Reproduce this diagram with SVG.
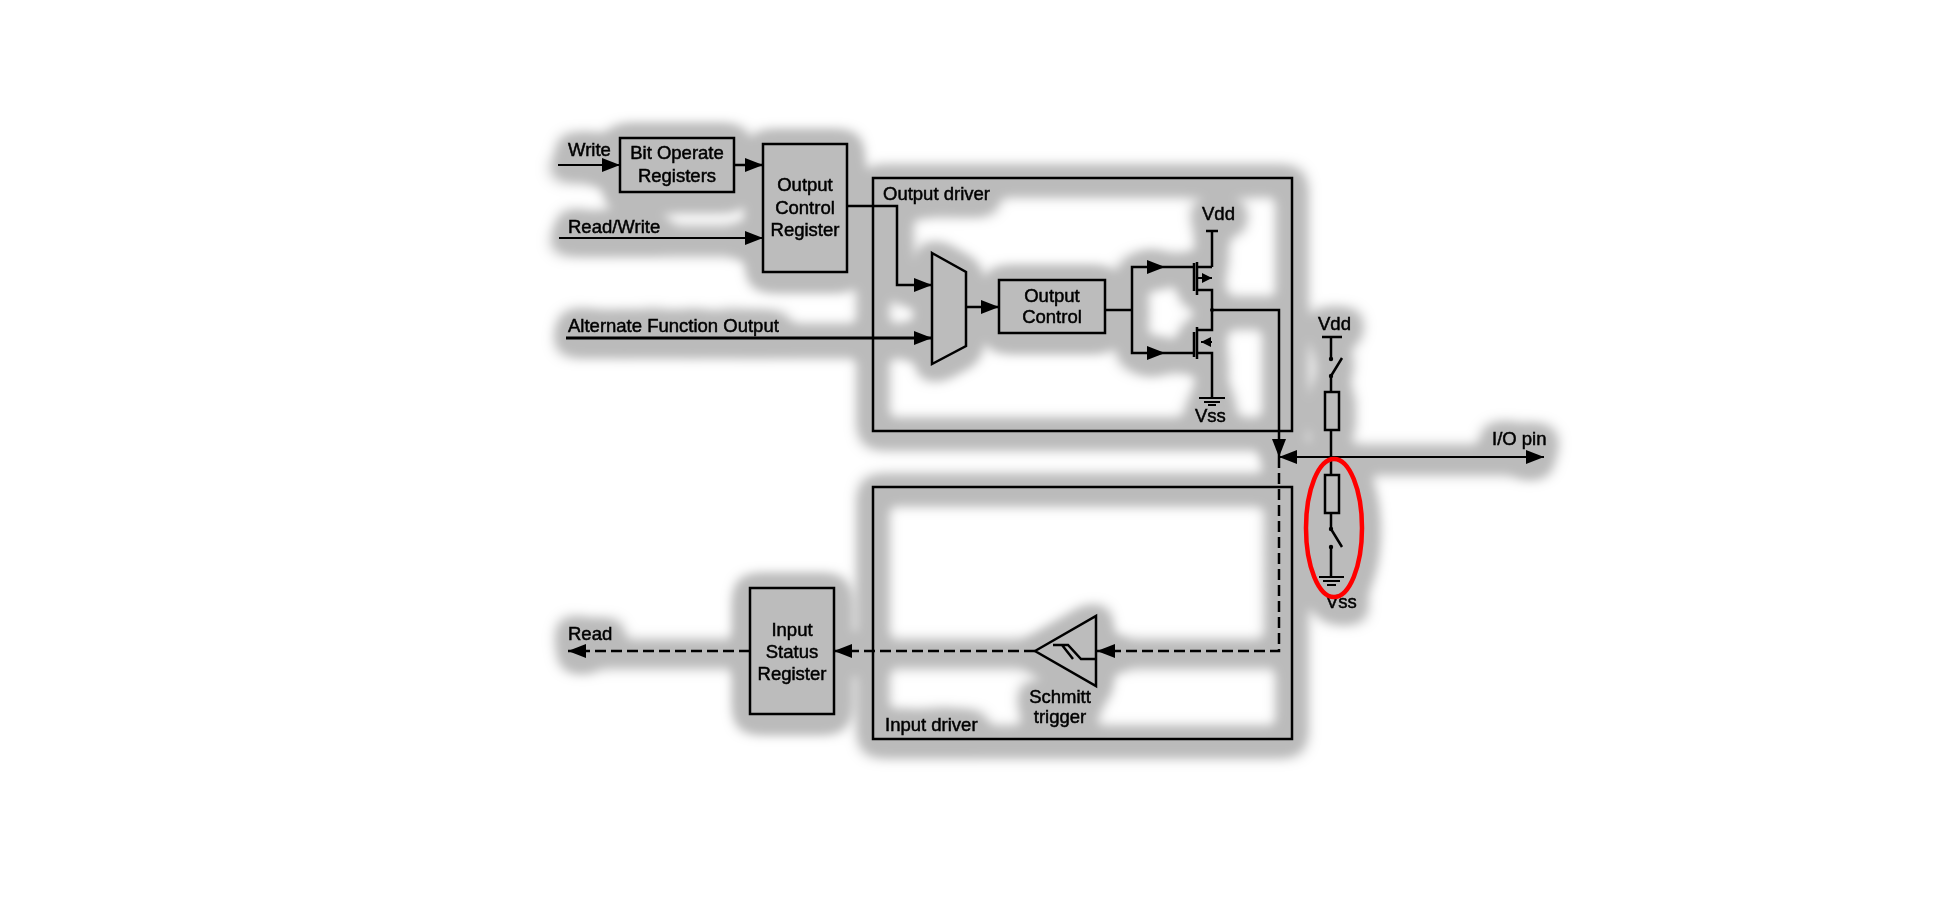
<svg xmlns="http://www.w3.org/2000/svg" width="1946" height="900" viewBox="0 0 1946 900">
<style>
text{font-family:"Liberation Sans",Arial,sans-serif;font-size:18.5px;fill:#000;stroke:#000;stroke-width:.5px}
.m{text-anchor:middle}
.b{fill:#bcbcbc;stroke:#000;stroke-width:2.5}
.o{fill:none;stroke:#000;stroke-width:3}
.w{fill:none;stroke:#000;stroke-width:2.5}
.t{stroke-width:2}
.d{stroke-dasharray:11 5}
.a{marker-end:url(#h)}
.s{marker-end:url(#sh)}
.dot{fill:#000;stroke:none}
</style>
<defs>
<marker id="h" markerUnits="userSpaceOnUse" markerWidth="19" markerHeight="14" viewBox="0 0 19 14" refX="18" refY="7" orient="auto"><path d="M0 0L18 7L0 14Z"/></marker>
<marker id="sh" markerUnits="userSpaceOnUse" markerWidth="11" markerHeight="10" viewBox="0 0 11 10" refX="10" refY="5" orient="auto"><path d="M0 0L10 5L0 10Z"/></marker>
<filter id="halo" filterUnits="userSpaceOnUse" x="0" y="0" width="1946" height="900" color-interpolation-filters="sRGB">
<feGaussianBlur in="SourceAlpha" stdDeviation="9" result="wide"/>
<feComponentTransfer in="wide" result="clip"><feFuncA type="linear" slope="25" intercept="0"/></feComponentTransfer>
<feGaussianBlur in="clip" stdDeviation="4.5" result="soft"/>
<feOffset in="soft" dx="0" dy="3" result="shift"/>
<feFlood flood-color="#bbbbbb"/>
<feComposite in2="shift" operator="in" result="gray"/>
<feMerge><feMergeNode in="gray"/><feMergeNode in="SourceGraphic"/></feMerge>
</filter>
</defs>
<rect width="1946" height="900" fill="#fff"/>
<g id="diagram" filter="url(#halo)">
<g id="connectors">
<path class="w t a" d="M558 165H620"/>
<path class="w a" d="M734 165H763"/>
<path class="w t a" d="M559 238H763"/>
<path class="o a" d="M566 338H932"/>
<path class="w a" d="M847 206H897V285H932"/>
<path class="w a" d="M966 307H999"/>
<path class="w" d="M1105 310H1132"/>
<path class="w a" d="M1132 310V267H1165"/>
<path class="w a" d="M1132 310V353H1165"/>
<path class="w" d="M1165 267H1194M1165 353H1194"/>
<path class="w a" d="M1212 310H1279V457"/>
<path class="w t a" d="M1331 457H1279"/>
<path class="w t a" d="M1331 457H1544"/>
<path class="w d" d="M1279 457V651H1114"/>
<path class="w a" d="M1114 651H1097"/>
<path class="w d a" d="M1035 651H834"/>
<path class="w d a" d="M750 651H568"/>
</g>
<g id="bit-operate-registers">
<rect class="b" x="620" y="138" width="114" height="54"/>
<text class="m" x="677" y="159">Bit Operate</text>
<text class="m" x="677" y="182">Registers</text>
</g>
<g id="output-control-register">
<rect class="b" x="763" y="144" width="84" height="128"/>
<text class="m" x="805" y="191">Output</text>
<text class="m" x="805" y="214">Control</text>
<text class="m" x="805" y="236">Register</text>
</g>
<g id="output-driver">
<rect class="w" x="873" y="178" width="419" height="253"/>
<text x="883" y="200">Output driver</text>
</g>
<g id="mux"><path class="b" d="M932 253L966 272V346L932 364Z"/></g>
<g id="output-control">
<rect class="b" x="999" y="280" width="106" height="53"/>
<text class="m" x="1052" y="302">Output</text>
<text class="m" x="1052" y="323">Control</text>
</g>
<g id="transistors">
<path class="w" d="M1194 263V291M1197 262V295M1197 267H1212M1212 231V267M1206 231H1218M1197 290H1212V330H1197M1194 332V357M1197 327V359M1197 353H1212V398"/>
<path class="w t s" d="M1197 278H1212"/>
<path class="w t s" d="M1212 342H1201"/>
<path class="w t" d="M1199 398H1225M1204 402H1220M1208 405H1216"/>
<circle class="dot" cx="1212" cy="310" r="2"/>
<text x="1202" y="220">Vdd</text>
<text x="1195" y="422">Vss</text>
</g>
<g id="input-driver">
<rect class="w" x="873" y="487" width="419" height="252"/>
<text x="885" y="731">Input driver</text>
</g>
<g id="schmitt-trigger">
<path class="b" d="M1035 651L1096 616V686Z"/>
<path class="w" d="M1053 645H1068L1081 659H1095M1062 645L1073 659"/>
<text class="m" x="1060" y="703">Schmitt</text>
<text class="m" x="1060" y="723">trigger</text>
</g>
<g id="input-status-register">
<rect class="b" x="750" y="588" width="84" height="126"/>
<text class="m" x="792" y="636">Input</text>
<text class="m" x="792" y="658">Status</text>
<text class="m" x="792" y="680">Register</text>
</g>
<g id="pull-network">
<path class="w" d="M1322 337H1342M1331 337V359M1331 376L1342 358M1331 376V392M1331 430V475M1331 513V529M1331 529L1342 547M1331 547V577"/>
<rect class="w" x="1325" y="392" width="14" height="38"/>
<rect class="w" x="1325" y="475" width="14" height="38"/>
<path class="w t" d="M1319 577H1344M1323 581H1340M1327 585H1336"/>
<circle class="dot" cx="1331" cy="359" r="2.2"/>
<circle class="dot" cx="1331" cy="376" r="2.2"/>
<circle class="dot" cx="1331" cy="529" r="2.2"/>
<circle class="dot" cx="1331" cy="547" r="2.2"/>
<text x="1318" y="330">Vdd</text>
<text x="1326" y="608">Vss</text>
</g>
<g id="labels">
<text x="568" y="156">Write</text>
<text x="568" y="233">Read/Write</text>
<text x="568" y="332">Alternate Function Output</text>
<text x="568" y="640">Read</text>
<text x="1492" y="445">I/O pin</text>
</g>
<ellipse id="highlight" cx="1334" cy="528" rx="28" ry="69" fill="none" stroke="#f00" stroke-width="4.5"/>
</g>
</svg>
